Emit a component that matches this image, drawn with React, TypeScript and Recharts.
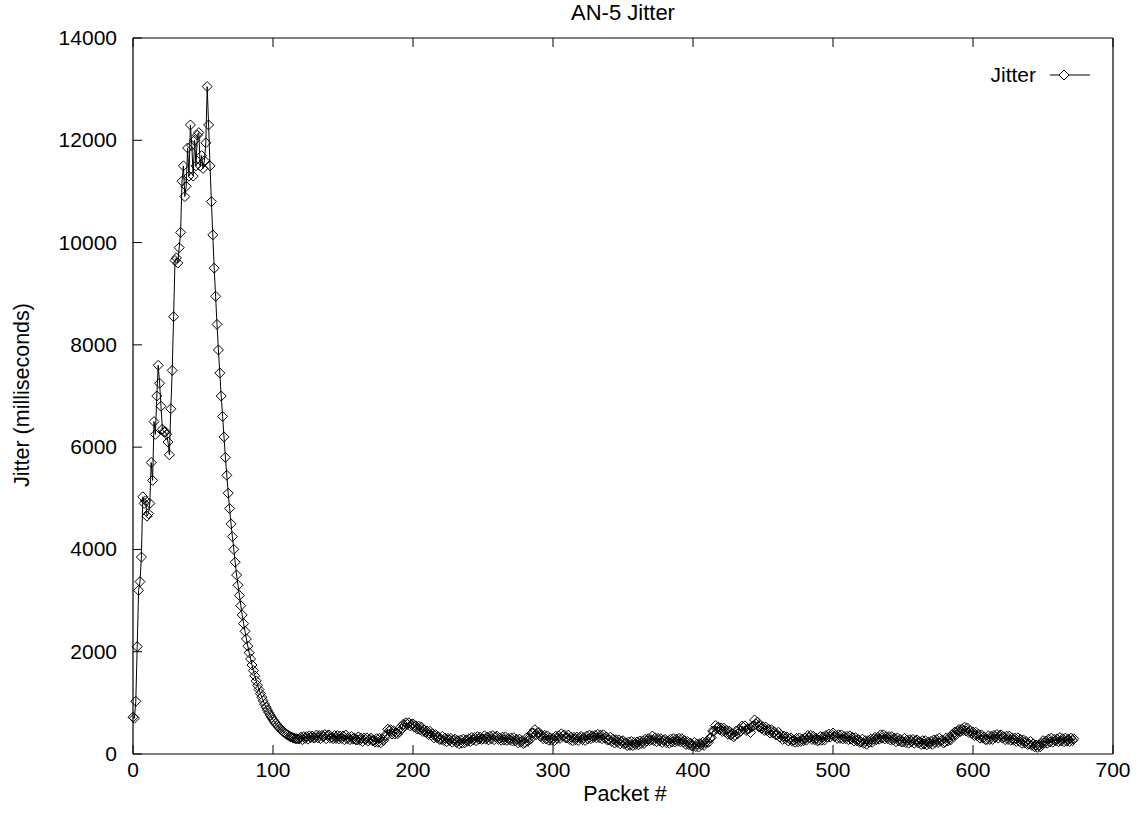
import { LineChart, Line, XAxis, YAxis } from "recharts"

const FONT = '"Liberation Sans", Arial, Helvetica, sans-serif'

// packets 0-55: the ramp up to the 13 s peak
const rampUp = [
  720, 700, 1030, 2100, 3200, 3370, 3850, 5030, 4900, 4950,
  4650, 4700, 4900, 5700, 5350, 6500, 6250, 7000, 7600, 7250,
  6800, 6350, 6300, 6300, 6250, 6100, 5850, 6750, 7500, 8550,
  9650, 9700, 9600, 9900, 10200, 11200, 11500, 10900, 11100, 11850,
  11300, 12300, 11900, 11300, 12000, 11500, 12100, 12150, 11500, 11700,
  11450, 11600, 11950, 13050, 12300, 11500,
]

// packets 56-119: the long decay
const decay = [
  10800, 10150, 9500, 8950, 8400, 7900, 7450, 7000, 6600, 6200,
  5800, 5450, 5100, 4800, 4500, 4250, 4000, 3750, 3500, 3300,
  3100, 2900, 2720, 2550, 2400, 2250, 2110, 1980, 1860, 1740,
  1630, 1530, 1430, 1340, 1260, 1180, 1110, 1040, 975, 915,
  860, 810, 760, 715, 670, 630, 595, 560, 530, 500,
  470, 445, 420, 400, 380, 360, 345, 330, 320, 310,
  300, 300, 295, 300,
]

// packets 120-672: the noisy flat tail
const tail = [
  330, 280, 340, 305, 340, 290, 355, 320, 350, 315,
  320, 370, 315, 360, 300, 365, 340, 380, 300, 365,
  375, 310, 330, 300, 360, 305, 360, 295, 350, 305,
  350, 280, 370, 300, 325, 280, 340, 290, 315, 280,
  275, 335, 270, 310, 245, 310, 285, 315, 255, 290,
  310, 260, 270, 235, 300, 230, 305, 220, 290, 265,
  360, 350, 485, 455, 475, 390, 455, 390, 415, 395,
  435, 520, 485, 580, 555, 610, 580, 610, 550, 580,
  590, 525, 550, 490, 545, 475, 525, 440, 470, 425,
  450, 380, 445, 365, 395, 315, 380, 320, 340, 285,
  285, 345, 265, 310, 240, 305, 265, 305, 230, 275,
  290, 225, 260, 200, 275, 210, 290, 220, 275, 250,
  300, 245, 325, 275, 320, 260, 340, 290, 330, 285,
  295, 355, 290, 330, 275, 345, 295, 360, 280, 335,
  350, 285, 310, 270, 330, 275, 335, 265, 305, 275,
  310, 255, 320, 255, 290, 220, 290, 230, 260, 205,
  225, 310, 250, 320, 295, 410, 410, 475, 380, 415,
  420, 345, 365, 300, 365, 295, 355, 270, 315, 270,
  305, 260, 350, 305, 355, 305, 395, 350, 375, 315,
  315, 370, 285, 330, 260, 325, 280, 330, 265, 320,
  345, 280, 320, 265, 350, 295, 370, 300, 355, 325,
  365, 315, 385, 320, 370, 300, 375, 310, 335, 270,
  275, 330, 245, 290, 215, 280, 230, 275, 200, 245,
  260, 195, 220, 165, 235, 170, 245, 165, 225, 185,
  235, 180, 255, 205, 255, 205, 290, 250, 300, 260,
  280, 350, 265, 315, 240, 305, 260, 300, 225, 270,
  285, 220, 255, 210, 290, 235, 300, 235, 290, 250,
  305, 240, 300, 230, 260, 185, 245, 185, 215, 160,
  165, 225, 145, 195, 135, 205, 175, 230, 170, 225,
  250, 230, 310, 320, 450, 445, 555, 500, 530, 480,
  510, 440, 505, 435, 465, 385, 445, 375, 395, 335,
  365, 450, 395, 480, 445, 545, 520, 550, 460, 490,
  495, 420, 530, 550, 665, 585, 625, 530, 550, 500,
  530, 460, 525, 455, 485, 410, 475, 410, 435, 375,
  375, 425, 330, 365, 285, 350, 295, 335, 255, 295,
  315, 250, 275, 230, 305, 240, 315, 245, 290, 260,
  315, 270, 360, 315, 365, 285, 345, 280, 310, 255,
  270, 340, 270, 335, 275, 360, 330, 390, 330, 385,
  410, 340, 365, 305, 375, 305, 375, 295, 340, 300,
  345, 280, 355, 290, 325, 255, 320, 260, 285, 230,
  235, 290, 210, 260, 190, 260, 230, 290, 230, 290,
  325, 280, 325, 290, 375, 310, 375, 295, 340, 300,
  340, 275, 340, 275, 310, 240, 315, 255, 285, 235,
  240, 305, 225, 275, 210, 280, 240, 285, 210, 260,
  275, 215, 240, 185, 260, 195, 260, 180, 230, 200,
  245, 190, 275, 225, 280, 225, 310, 250, 275, 215,
  235, 315, 255, 320, 275, 375, 360, 430, 380, 445,
  480, 440, 490, 460, 525, 450, 510, 420, 455, 405,
  430, 360, 425, 355, 385, 310, 375, 310, 335, 280,
  285, 355, 285, 345, 285, 365, 325, 380, 310, 360,
  375, 310, 335, 280, 350, 285, 350, 270, 315, 270,
  310, 245, 315, 250, 285, 210, 275, 215, 245, 185,
  195, 245, 170, 200, 140, 175, 130, 175, 140, 205,
  260, 215, 255, 210, 290, 235, 310, 230, 285, 255,
  295, 240, 320, 255, 300, 240, 310, 250, 290, 245,
  310, 260, 300,
]

const xTicks = [0, 100, 200, 300, 400, 500, 600, 700]
const yTicks = [0, 2000, 4000, 6000, 8000, 10000, 12000, 14000]

const data = [...rampUp, ...decay, ...tail].map((v, i) => ({ packet: i, jitter: v }))

const TICK = 9
const TICK_FONT = 21

function diamond(cx: number, cy: number, r = 5) {
  return `M${cx},${cy - r}L${cx + r},${cy}L${cx},${cy + r}L${cx - r},${cy}Z`
}

const renderDot = (p: any) => {
  if (p.cx == null || p.cy == null) return <g key={p.index} />
  return (
    <path key={p.index} d={diamond(p.cx, p.cy)} fill="none" stroke="#000" strokeWidth={1} />
  )
}

const BottomTick = ({ x, y, payload }: any) => (
  <g>
    <line x1={x} x2={x} y1={y} y2={y - TICK} stroke="#000" />
    <text x={x} y={y + 23} textAnchor="middle" fontSize={TICK_FONT} fontFamily={FONT} fill="#000">
      {payload.value}
    </text>
  </g>
)

const TopTick = ({ x, y }: any) => (
  <line x1={x} x2={x} y1={y} y2={y + TICK} stroke="#000" />
)

const LeftTick = ({ x, y, payload }: any) => (
  <g>
    <line x1={x} x2={x + TICK} y1={y} y2={y} stroke="#000" />
    <text x={x - 16} y={y + 7} textAnchor="end" fontSize={TICK_FONT} fontFamily={FONT} fill="#000">
      {payload.value}
    </text>
  </g>
)

const RightTick = ({ x, y }: any) => (
  <line x1={x} x2={x - TICK} y1={y} y2={y} stroke="#000" />
)

export default function App() {
  return (
    <div style={{ position: "absolute", left: 0, top: 0, width: 1141, height: 815, background: "#fff", fontFamily: FONT }}>
      <div style={{ position: "absolute", left: 0, width: 1246, top: 0, textAlign: "center", fontSize: 22 }}>
        AN-5 Jitter
      </div>
      <div style={{ position: "absolute", left: 0, width: 1250, top: 782, textAlign: "center", fontSize: 21.5 }}>
        Packet #
      </div>
      <div
        style={{
          position: "absolute",
          left: 22,
          top: 395,
          fontSize: 21.5,
          whiteSpace: "nowrap",
          transform: "translate(-50%, -50%) rotate(-90deg)",
        }}
      >
        Jitter (milliseconds)
      </div>
      <svg style={{ position: "absolute", left: 970, top: 60 }} width={140} height={30}>
        <text x={66} y={22} textAnchor="end" fontSize={TICK_FONT} fontFamily={FONT} fill="#000">
          Jitter
        </text>
        <line x1={80} x2={120} y1={15} y2={15} stroke="#000" />
        <path d={diamond(94, 15)} fill="#fff" stroke="#000" />
      </svg>
      <LineChart width={1141} height={815} data={data} margin={{ top: 37, right: 27, bottom: 0, left: 0 }}>
        <XAxis
          xAxisId="b"
          dataKey="packet"
          type="number"
          domain={[0, 700]}
          ticks={xTicks}
          interval={0}
          height={61}
          tickLine={false}
          tickSize={0}
          tickMargin={0}
          axisLine={{ stroke: "#000", strokeWidth: 1.2 }}
          tick={<BottomTick />}
        />
        <XAxis
          xAxisId="t"
          orientation="top"
          dataKey="packet"
          type="number"
          domain={[0, 700]}
          ticks={xTicks}
          interval={0}
          height={1}
          tickLine={false}
          tickSize={0}
          tickMargin={0}
          axisLine={{ stroke: "#000", strokeWidth: 1.2 }}
          tick={<TopTick />}
        />
        <YAxis
          yAxisId="l"
          type="number"
          domain={[0, 14000]}
          ticks={yTicks}
          interval={0}
          width={133}
          tickLine={false}
          tickSize={0}
          tickMargin={0}
          axisLine={{ stroke: "#000", strokeWidth: 1.2 }}
          tick={<LeftTick />}
        />
        <YAxis
          yAxisId="r"
          orientation="right"
          type="number"
          domain={[0, 14000]}
          ticks={yTicks}
          interval={0}
          width={1}
          tickLine={false}
          tickSize={0}
          tickMargin={0}
          axisLine={{ stroke: "#000", strokeWidth: 1.2 }}
          tick={<RightTick />}
        />
        <Line
          xAxisId="b"
          yAxisId="l"
          type="linear"
          dataKey="jitter"
          name="Jitter"
          stroke="#000"
          strokeWidth={1}
          dot={renderDot}
          activeDot={false}
          isAnimationActive={false}
        />
      </LineChart>
    </div>
  )
}
